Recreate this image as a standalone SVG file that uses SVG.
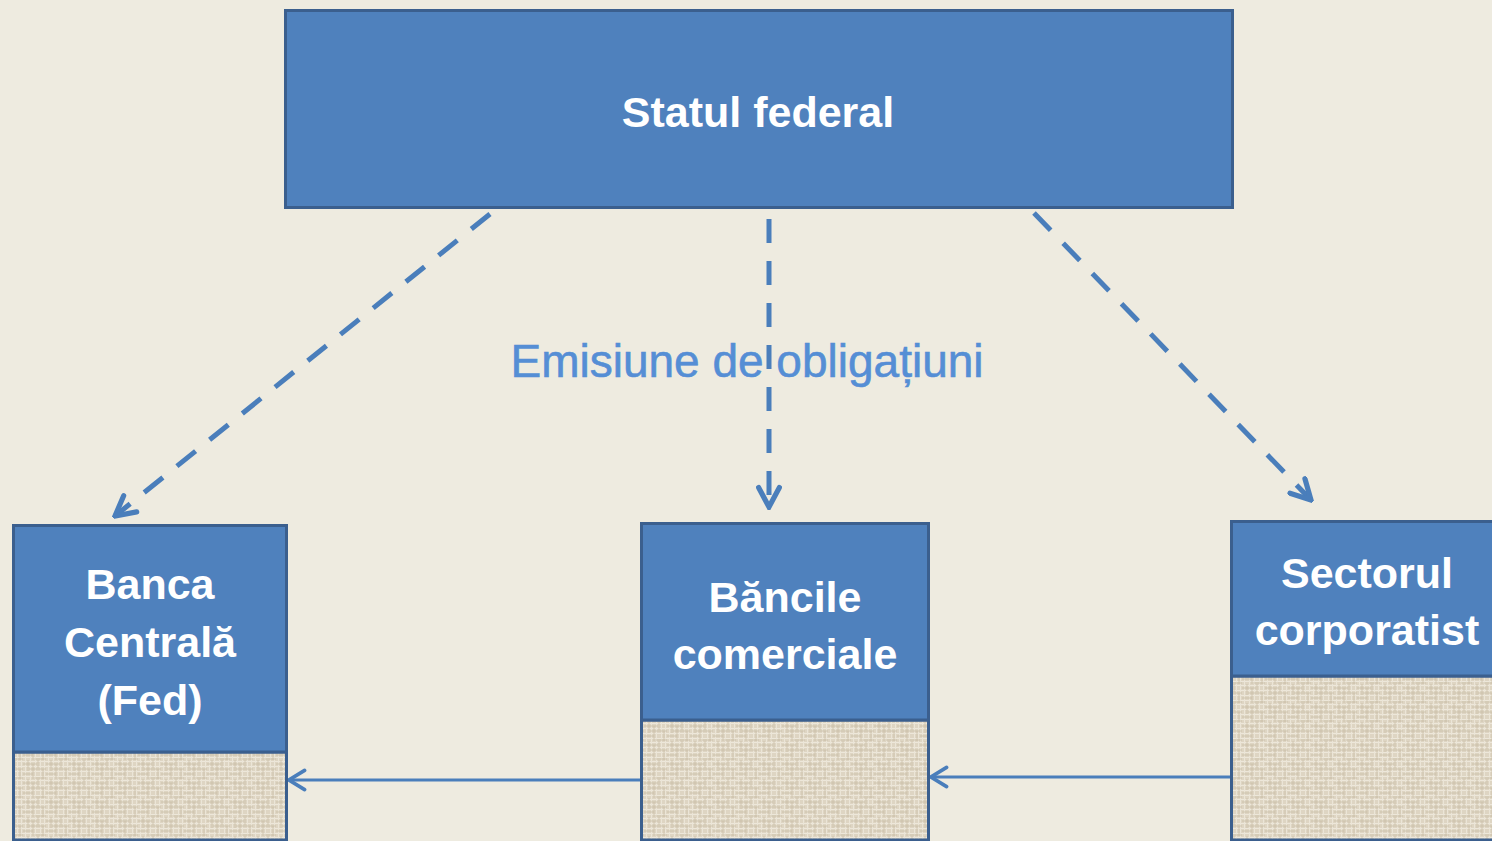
<svg xmlns="http://www.w3.org/2000/svg" width="1492" height="841" viewBox="0 0 1492 841">
<style>
.box{fill:#4f81bd;stroke:#3b5f8e;stroke-width:3}
.tex{fill:url(#burlap);stroke:#3b5f8e;stroke-width:3}
.lbl{font-family:"Liberation Sans",Arial,sans-serif;font-weight:bold;font-size:43px;fill:#ffffff;text-anchor:middle}
.dash{fill:none;stroke:#4a7ebb;stroke-width:5;stroke-dasharray:24 18}
.solid{fill:none;stroke:#4a7ebb;stroke-width:3}
.note{font-family:"Liberation Sans",Arial,sans-serif;font-size:46px;fill:#558ed5;stroke:#558ed5;stroke-width:0.6;text-anchor:middle}
</style>
<defs>
<pattern id="burlap" width="23" height="19" patternUnits="userSpaceOnUse">
<rect width="23" height="19" fill="#ded5c3"/>
<path d="M0,1.5H23M0,6.5H23M0,11.5H23M0,16.5H23" stroke="#ede7da" stroke-width="1"/>
<path d="M2.5,0V19M7.5,0V19M12.5,0V19M17.5,0V19M21.5,0V19" stroke="#ebe5d7" stroke-width="1"/>
<path d="M0,4H14M6,9H23M0,14H10M12,18H23" stroke="#c8bca4" stroke-width="0.8"/>
<path d="M5,0V11M10,4V19M15,0V8M20,9V19" stroke="#cabea7" stroke-width="0.8"/>
</pattern>
<marker id="openV" viewBox="0 0 20 20" refX="18" refY="10" markerWidth="26" markerHeight="26" markerUnits="userSpaceOnUse" orient="auto">
<path d="M3,2 L18,10 L3,18" fill="none" stroke="#4a7ebb" stroke-width="4" stroke-linecap="round" stroke-linejoin="miter"/>
</marker>
<marker id="openS" viewBox="0 0 20 20" refX="18" refY="10" markerWidth="24" markerHeight="24" markerUnits="userSpaceOnUse" orient="auto">
<path d="M5,2 L18,10 L5,18" fill="none" stroke="#4a7ebb" stroke-width="3" stroke-linecap="round"/>
</marker>
</defs>
<rect width="1492" height="841" fill="#eeebe0"/>

<g id="connectors">
<line class="dash" x1="490" y1="214" x2="115" y2="516" marker-end="url(#openV)"/>
<line class="dash" x1="769" y1="219" x2="769" y2="507" marker-end="url(#openV)"/>
<line class="dash" x1="1034" y1="213" x2="1311" y2="500" marker-end="url(#openV)"/>
<line class="solid" x1="640" y1="780" x2="289" y2="780" marker-end="url(#openS)"/>
<line class="solid" x1="1230" y1="777" x2="931" y2="777" marker-end="url(#openS)"/>
</g>

<g id="statul-federal">
<rect class="box" x="285.5" y="10.5" width="947" height="197"/>
<text class="lbl" x="758" y="127">Statul federal</text>
</g>

<g id="emisiune-label">
<text class="note" x="747" y="377">Emisiune de obligațiuni</text>
</g>

<g id="banca-centrala">
<rect class="tex" x="13.5" y="752" width="273" height="88"/>
<rect class="box" x="13.5" y="525.5" width="273" height="226.5"/>
<text class="lbl" x="150" y="599">Banca</text>
<text class="lbl" x="150" y="657">Centrală</text>
<text class="lbl" x="150" y="715">(Fed)</text>
</g>

<g id="bancile-comerciale">
<rect class="tex" x="641.5" y="720" width="287" height="120"/>
<rect class="box" x="641.5" y="523.5" width="287" height="196.5"/>
<text class="lbl" x="785" y="612">Băncile</text>
<text class="lbl" x="785" y="669">comerciale</text>
</g>

<g id="sectorul-corporatist">
<rect class="tex" x="1231.5" y="676" width="275" height="164"/>
<rect class="box" x="1231.5" y="521.5" width="275" height="154.5"/>
<text class="lbl" x="1367" y="588">Sectorul</text>
<text class="lbl" x="1367" y="645">corporatist</text>
</g>
</svg>
